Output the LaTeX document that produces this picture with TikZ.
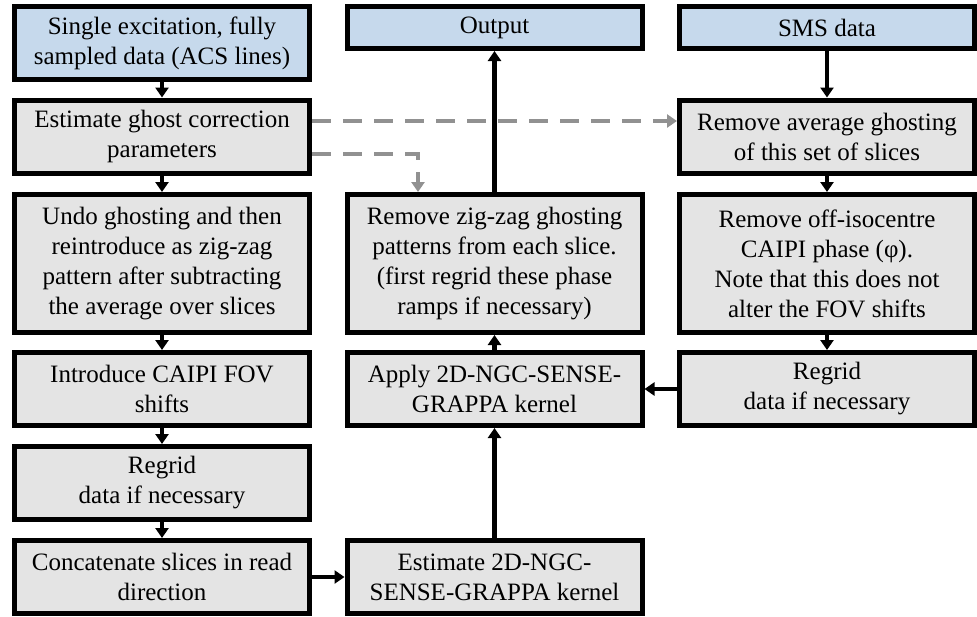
\documentclass[tikz,border=0pt]{standalone}
\usepackage{fontspec}
\setmainfont{Liberation Serif}
\usetikzlibrary{arrows.meta}
\definecolor{headblue}{RGB}{198,217,236}
\definecolor{stepgray}{RGB}{228,228,228}
\definecolor{dashgray}{RGB}{145,145,145}
\tikzset{
  box/.style={draw=black, line width=5pt, fill=stepgray, minimum width=295pt,
    minimum height=73pt, align=center, inner sep=2pt,
    font=\fontsize{25}{30}\selectfont},
  head/.style={box, fill=headblue},
  tallbox/.style={box, minimum height=138pt},
  flow/.style={line width=4.5pt, -{Triangle[width=13pt,length=10pt]}},
  ghost/.style={flow, draw=dashgray, dash pattern=on 19pt off 12pt},
}
\begin{document}
\begin{tikzpicture}[x=1pt,y=-1pt]
    \useasboundingbox (0,0) rectangle (977,616);
    % left column: calibration data
    \node[head] (acs) at (162,43) {Single excitation, fully\\sampled data (ACS lines)};
    \node[box] (ghost) at (162,136.5) {Estimate ghost correction\\parameters};
    \node[tallbox] (undo) at (162,263.5) {Undo ghosting and then\\reintroduce as zig-zag\\pattern after subtracting\\the average over slices};
    \node[box] (caipi) at (162,389) {Introduce CAIPI FOV\\shifts};
    \node[box] (regridL) at (162,483) {Regrid\\data if necessary};
    \node[box] (concat) at (162,577) {Concatenate slices in read\\direction};
    % middle column
    \node[head, minimum height=42pt] (out) at (494.5,27.5) {Output};
    \node[tallbox] (zigzag) at (494.5,263.5) {Remove zig-zag ghosting\\patterns from each slice.\\(first regrid these phase\\ramps if necessary)};
    \node[box] (apply) at (494.5,389) {Apply 2D-NGC-SENSE-\\GRAPPA kernel};
    \node[box] (kernel) at (494.5,577) {Estimate 2D-NGC-\\SENSE-GRAPPA kernel};
    % right column: SMS data
    \node[head, minimum height=42pt] (sms) at (827,27.5) {SMS data};
    \node[box] (avg) at (827,136.5) {Remove average ghosting\\of this set of slices};
    \node[tallbox] (phase) at (827,263.5) {Remove off-isocentre\\CAIPI phase (φ).\\Note that this does not\\alter the FOV shifts};
    \node[box] (regridR) at (827,389) {Regrid\\data if necessary};
    % ghost parameters passed on
    \draw[ghost] ([yshift=15.5pt]ghost.east) -- ([yshift=15.5pt]ghost.east -| avg.west);
    \draw[ghost] ([yshift=-17.5pt]ghost.east) -| ([xshift=-76.5pt]zigzag.north);
    % main flow
    \draw[flow] (acs) -- (ghost);
    \draw[flow] (ghost) -- (undo);
    \draw[flow] (undo) -- (caipi);
    \draw[flow] (caipi) -- (regridL);
    \draw[flow] (regridL) -- (concat);
    \draw[flow] (concat) -- (kernel);
    \draw[flow] (kernel) -- (apply);
    \draw[flow] (apply) -- (zigzag);
    \draw[flow] (zigzag) -- (out);
    \draw[flow] (sms) -- (avg);
    \draw[flow] (avg) -- (phase);
    \draw[flow] (phase) -- (regridR);
    \draw[flow] (regridR) -- (apply);
\end{tikzpicture}
\end{document}
